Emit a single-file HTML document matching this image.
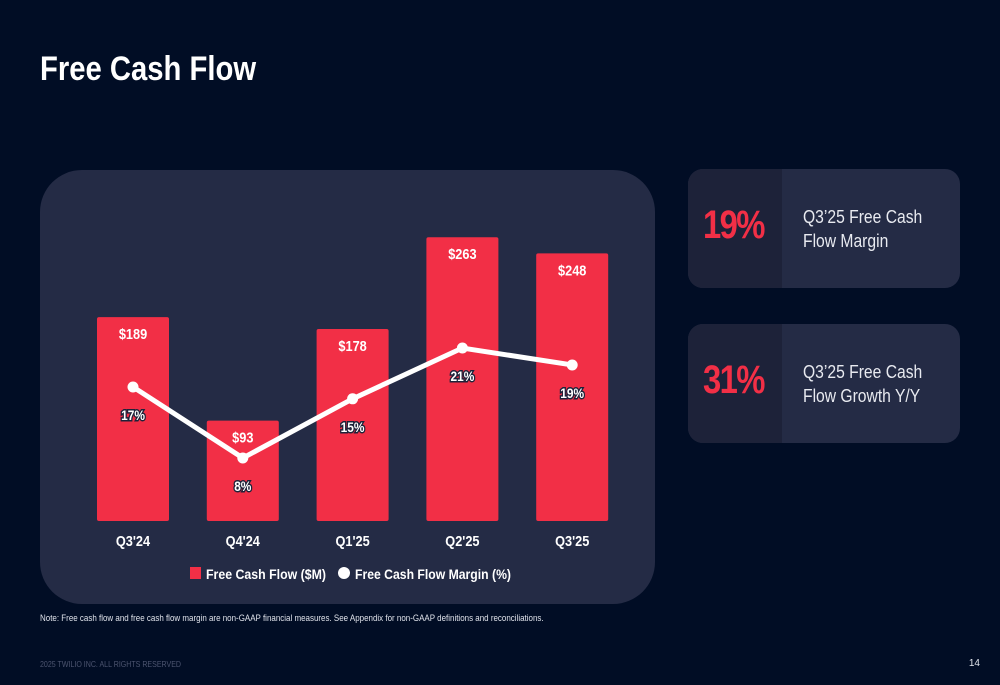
<!DOCTYPE html>
<html><head><meta charset="utf-8"><style>
body{margin:0;width:1000px;height:685px;background:#010d25;font-family:"Liberation Sans",sans-serif;overflow:hidden;position:relative}
.title{position:absolute;left:40px;top:50px;color:#fff;font-size:34px;font-weight:bold;transform:scaleX(0.86);transform-origin:0 0;white-space:nowrap}
.panel{position:absolute;left:40px;top:170px;width:615px;height:434px;background:#242b45;border-radius:42px}
.card{position:absolute;left:688px;width:272px;height:119px;background:#242b45;border-radius:15px;overflow:hidden}
.card .l{position:absolute;left:0;top:0;width:94px;height:100%;background:#1d2239}
.card .big{position:absolute;left:15px;top:34px;color:#f22f46;font-size:40px;font-weight:bold;letter-spacing:-2px;transform:scaleX(0.82);transform-origin:0 0;white-space:nowrap}
.card .t{position:absolute;left:115px;top:36px;color:#e8eaf0;font-size:18px;line-height:24px;transform:scaleX(0.87);transform-origin:0 0;white-space:nowrap}
.note{position:absolute;left:40px;top:613px;color:#dfe2ea;font-size:9.5px;transform:scaleX(0.84);transform-origin:0 0;white-space:nowrap}
.foot{position:absolute;left:40px;top:659px;color:#4d5570;font-size:8.5px;transform:scaleX(0.83);transform-origin:0 0;white-space:nowrap}
.pg{position:absolute;right:20px;top:658px;color:#dfe2ea;font-size:10px}
</style></head><body>
<div class="title">Free Cash Flow</div>
<div class="panel"></div>
<svg id="chart" style="position:absolute;left:0;top:0" width="1000" height="685"></svg>
<div class="card" style="top:169px"><div class="l"></div><div class="big">19%</div><div class="t">Q3’25 Free Cash<br>Flow Margin</div></div>
<div class="card" style="top:324px"><div class="l"></div><div class="big">31%</div><div class="t">Q3’25 Free Cash<br>Flow Growth Y/Y</div></div>
<div class="note">Note: Free cash flow and free cash flow margin are non-GAAP financial measures. See Appendix for non-GAAP definitions and reconciliations.</div>
<div class="foot">2025 TWILIO INC. ALL RIGHTS RESERVED</div>
<div class="pg">14</div>
<script>
const categories=["Q3'24","Q4'24","Q1'25","Q2'25","Q3'25"];
const fcf=[189,93,178,263,248];
const fcfLabels=["$189","$93","$178","$263","$248"];
const margin=[16.4,8,15,21,19];
const marginLabels=["17%","8%","15%","21%","19%"];
const NS="http://www.w3.org/2000/svg";
const svg=document.getElementById('chart');
const x=i=>133+i*109.8;
const yBar=v=>521-v*1.079;
const yM=v=>525.7-v*8.46;
function mk(t,a,txt){const e=document.createElementNS(NS,t);for(const k in a)e.setAttribute(k,a[k]);if(txt!=null)e.textContent=txt;svg.appendChild(e);return e;}
const F='"Liberation Sans",sans-serif';
function narrow(el){const w=el.getComputedTextLength();el.setAttribute('textLength',w*0.85);el.setAttribute('lengthAdjust','spacingAndGlyphs');}
categories.forEach((c,i)=>{
 const b=mk('rect',{x:x(i)-36,y:yBar(fcf[i]),width:72,height:521-yBar(fcf[i]),fill:'#f22f46',rx:2});
 
 
 const t=mk('text',{x:x(i),y:yBar(fcf[i])+22,fill:'#fff','font-size':15,'font-weight':'bold','text-anchor':'middle','font-family':F},fcfLabels[i]);
 
 
 narrow(t);
 const l=mk('text',{x:x(i),y:546,fill:'#fff','font-size':15,'font-weight':'bold','text-anchor':'middle','font-family':F},c);
 
 
 narrow(l);
});
const line=mk('polyline',{points:margin.map((m,i)=>x(i)+','+yM(m)).join(' '),fill:'none',stroke:'#fff','stroke-width':5});


margin.forEach((m,i)=>{
 const p=mk('circle',{cx:x(i),cy:yM(m),r:5.5,fill:'#fff'});
 
 
 const t=mk('text',{x:x(i),y:yM(m)+33,fill:'#fff',stroke:'#1d2239','stroke-width':3,'paint-order':'stroke','font-size':14,'font-weight':'bold','text-anchor':'middle','font-family':F},marginLabels[i]);
 
 
 narrow(t);
});
const lr=mk('rect',{x:190,y:567,width:11,height:12,fill:'#f22f46'});


const lt=mk('text',{x:206,y:579,fill:'#fff','font-size':14,'font-weight':'bold','font-family':F,textLength:120,lengthAdjust:'spacingAndGlyphs'},'Free Cash Flow ($M)');


const lc=mk('circle',{cx:344,cy:573,r:6,fill:'#fff'});


const lt2=mk('text',{x:355,y:579,fill:'#fff','font-size':14,'font-weight':'bold','font-family':F,textLength:156,lengthAdjust:'spacingAndGlyphs'},'Free Cash Flow Margin (%)');


</script>
</body></html>
